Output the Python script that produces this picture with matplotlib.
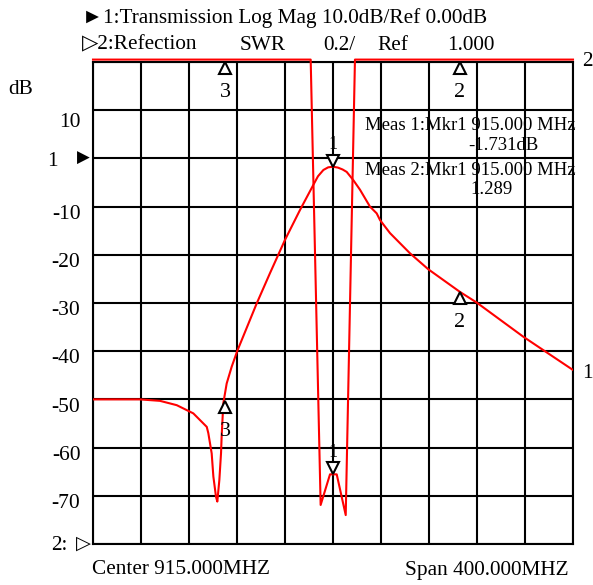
import matplotlib
matplotlib.use("Agg")
import matplotlib.pyplot as plt
from matplotlib.transforms import offset_copy
import numpy as np

# trace 1: transmission, log mag (dB)
freq1 = [715, 754.2, 770.8, 784.8, 798.6, 804.2, 809.8, 811.1, 813.9, 815.3,
         817.5, 818.6, 820.3, 821.7, 822.2, 823.6, 826.4, 830.6, 835.3, 851.4,
         862.5, 875, 887.5, 898.6, 902.5, 907, 911, 915, 919, 923, 926.4,
         931.9, 937.5, 945.8, 951.4, 954.2, 962.5, 979.2, 994.4, 1020.8,
         1034.7, 1073.6, 1115]
db1 = [-50, -50, -50.3, -51.2, -52.9, -54.3, -55.7, -57.0, -61.2, -66.0,
       -70.2, -71.2, -66.7, -61.1, -57.7, -50.8, -46.7, -43.2, -39.9, -30.1,
       -23.8, -16.9, -10.7, -5.5, -3.7, -2.4, -1.85, -1.731, -1.9, -2.3, -2.8,
       -4.5, -6.5, -10, -11.4, -12.8, -15.5, -19.7, -23, -27.7,
       -29.9, -37, -43.9]

# trace 2: reflection, SWR
freq2 = [715, 896.4, 904.7, 912.5, 918.1, 925.6, 933.3, 1115]
swr2 = [3.01, 3.01, 1.162, 1.289, 1.289, 1.12, 3.01, 3.01]

# markers
mkr_freq = [915, 1020.8, 825]
mkr_db = [-1.731, -27.7, -50.4]
mkr_swr = [1.289, 3.0, 3.0]

db_ticks = [10, -10, -20, -30, -40, -50, -60, -70]

plt.rcParams['font.family'] = ['Liberation Serif', 'DejaVu Sans']

fig = plt.figure(figsize=(5.93, 5.85), dpi=100)
W, H = 593, 585
ax = fig.add_axes([93 / W, (H - 544) / H, 480 / W, 482 / H])
ax.set_xlim(715, 1115)
ax.set_ylim(-80, 20)
ax.set_xticks(np.arange(715, 1116, 40))
ax.set_yticks(np.arange(-80, 21, 10))
ax.grid(True, color='black', lw=1.5)
ax.tick_params(length=0, labelleft=False, labelbottom=False)
for s in ax.spines.values():
    s.set_linewidth(1.5)

ax.plot(freq1, db1, color='red', lw=1.5, zorder=3)

ax2 = ax.twinx()
ax2.set_ylim(1.0, 3.0)
ax2.tick_params(length=0, labelright=False)
for s in ax2.spines.values():
    s.set_visible(False)
ax2.plot(freq2, swr2, color='red', lw=1.5, clip_on=False, zorder=3)

# marker triangles, tip on the trace
ms = 8.5
up1 = offset_copy(ax.transData, fig, x=0, y=-ms / 2, units='points')
dn1 = offset_copy(ax.transData, fig, x=0, y=ms / 2, units='points')
up2 = offset_copy(ax2.transData, fig, x=0, y=-ms / 2, units='points')
dn2 = offset_copy(ax2.transData, fig, x=0, y=ms / 2, units='points')
mk = dict(ms=ms, mfc='white', mec='black', mew=1.5, ls='none', zorder=5, clip_on=False)

ax.plot(mkr_freq[0], mkr_db[0], marker='v', transform=dn1, **mk)
ax2.plot(mkr_freq[0], mkr_swr[0], marker='v', transform=dn2, **mk)
for i in (1, 2):
    ax.plot(mkr_freq[i], mkr_db[i], marker='^', transform=up1, **mk)
    ax2.plot(mkr_freq[i], mkr_swr[i], marker='^', transform=up2, **mk)

lab1 = offset_copy(ax.transData, fig, x=0, y=-22, units='points')
lab2 = offset_copy(ax2.transData, fig, x=0, y=-22, units='points')
ax.text(mkr_freq[0], mkr_db[0], '1', transform=offset_copy(ax.transData, fig, x=0, y=16, units='points'),
        ha='center', va='center', fontsize=13)
ax2.text(mkr_freq[0], mkr_swr[0], '1', transform=offset_copy(ax2.transData, fig, x=0, y=16, units='points'),
         ha='center', va='center', fontsize=13)
for i in (1, 2):
    ax.text(mkr_freq[i], mkr_db[i], str(i + 1), transform=lab1, ha='center', va='center', fontsize=16)
    ax2.text(mkr_freq[i], mkr_swr[i], str(i + 1), transform=lab2, ha='center', va='center', fontsize=16)

# y labels (the top one sits a bit lower in the original)
for v in db_ticks:
    dy = -9 if v == 10 else -5.5
    ax.annotate(str(v), (715, v), xytext=(-9, dy), textcoords='offset points',
                ha='right', va='center', fontsize=15.5)


def ftext(x, y, s, **kw):
    fig.text(x / W, 1 - y / H, s, **kw)


fs = 15.3
ftext(8, 90, 'dB', fontsize=fs, va='center')
ftext(58, 161, '1', fontsize=fs, va='center', ha='right')
ftext(77, 159, '\u25b6', fontsize=12, va='center')
ftext(68, 546, '2:', fontsize=fs, va='center', ha='right')
ftext(76, 544, '\u25b7', fontsize=14, va='center')
ftext(82, 18, '\u25ba1:Transmission Log Mag 10.0dB/Ref 0.00dB', fontsize=fs, va='center')
ftext(82, 45, '\u25b72:Refection', fontsize=fs, va='center')
ftext(240, 45, 'SWR', fontsize=fs, va='center')
ftext(323, 45, '0.2/', fontsize=fs, va='center')
ftext(377, 45, 'Ref', fontsize=fs, va='center')
ftext(447, 45, '1.000', fontsize=fs, va='center')
ftext(582, 61, '2', fontsize=fs, va='center')
ftext(582, 373, '1', fontsize=fs, va='center')
ftext(92, 570, 'Center 915.000MHZ', fontsize=fs, va='center')
ftext(405, 570, 'Span 400.000MHZ', fontsize=fs, va='center')
ftext(365, 125, 'Meas 1:Mkr1 915.000 MHz', fontsize=13.5, va='center')
ftext(468, 146, '-1.731dB', fontsize=13.5, va='center')
ftext(365, 170, 'Meas 2:Mkr1 915.000 MHz', fontsize=13.5, va='center')
ftext(470, 190, '1.289', fontsize=13.5, va='center')

fig.savefig('out.png', dpi=100)
